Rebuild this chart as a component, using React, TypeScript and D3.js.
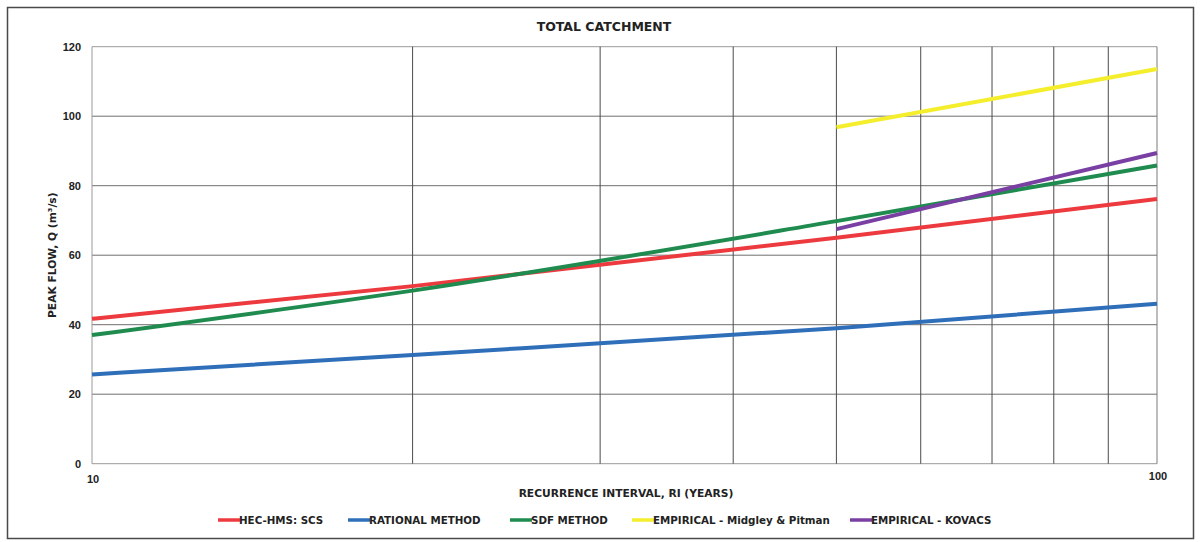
import React from "react";
import * as d3 from "d3";

// Recurrence intervals (years) at which each method was evaluated
const intervals = [10, 20, 50, 100];
const empiricalIntervals = [50, 100];

// Peak flow estimates, m³/s
const hecHmsScs = [41.7, 51.1, 65.0, 76.2];
const rationalMethod = [25.7, 31.3, 39.0, 46.0];
const sdfMethod = [37.0, 49.8, 69.8, 85.8];
const midgleyPitman = [96.8, 113.6];
const kovacs = [67.5, 89.4];

const seriesNames = [
  "HEC-HMS: SCS",
  "RATIONAL METHOD",
  "SDF METHOD",
  "EMPIRICAL - Midgley & Pitman",
  "EMPIRICAL - KOVACS",
];
const seriesColors = ["#ec3a3f", "#2f6fba", "#1f8b4e", "#f4ee2c", "#7a3fa3"];

const xGridValues = [10, 20, 30, 40, 50, 60, 70, 80, 90, 100];
const xTickLabels = [10, 100];
const yTicks = [0, 20, 40, 60, 80, 100, 120];

const W = 1200;
const H = 542;
const plot = { left: 92, right: 1157, top: 46.7, bottom: 463.7 };
const FONT = "'Liberation Sans', Arial, sans-serif";
const WIDE = "'DejaVu Sans', Verdana, sans-serif";

export default function App() {
  const x = d3.scaleLog().domain([10, 100]).range([plot.left, plot.right]);
  const y = d3.scaleLinear().domain([0, 120]).range([plot.bottom, plot.top]);

  const line = d3
    .line<[number, number]>()
    .x((d) => x(d[0]))
    .y((d) => y(d[1]))
    .curve(d3.curveMonotoneX);

  const series = [
    { xs: intervals, ys: hecHmsScs },
    { xs: intervals, ys: rationalMethod },
    { xs: intervals, ys: sdfMethod },
    { xs: empiricalIntervals, ys: midgleyPitman },
    { xs: empiricalIntervals, ys: kovacs },
  ];

  // Legend entries: swatch start x
  const legendX = [218, 348, 510, 632, 850];
  const legendY = 520;

  return (
    <svg
      width={W}
      height={H}
      style={{ position: "absolute", left: 0, top: 0, background: "#fff" }}
      fontFamily={FONT}
    >
      <rect x={0} y={0} width={W} height={H} fill="#fff" />
      {/* outer chart frame */}
      <rect
        x={7.5}
        y={7.5}
        width={1186}
        height={531}
        fill="none"
        stroke="#4a4a4a"
        strokeWidth={1.5}
      />

      <text
        x={604}
        y={31}
        textAnchor="middle"
        fontSize={12.5}
        fontWeight="bold"
        fontFamily={WIDE}
        fill="#222"
      >
        TOTAL CATCHMENT
      </text>

      {/* horizontal gridlines */}
      {yTicks.map((t) => (
        <line
          key={"h" + t}
          x1={plot.left}
          x2={plot.right}
          y1={y(t)}
          y2={y(t)}
          stroke={t === 0 || t === 120 ? "#9a9a9a" : "#6e6e6e"}
          strokeWidth={1}
        />
      ))}
      {/* vertical gridlines */}
      {xGridValues.map((v) => (
        <line
          key={"v" + v}
          x1={x(v)}
          x2={x(v)}
          y1={plot.top}
          y2={plot.bottom}
          stroke={v === 10 ? "#9a9a9a" : v === 100 ? "#7a7a7a" : "#4a4a4a"}
          strokeWidth={1}
        />
      ))}

      {/* y tick labels */}
      {yTicks.map((t) => (
        <text
          key={"yl" + t}
          x={81}
          y={y(t) + 4}
          textAnchor="end"
          fontSize={11}
          fontWeight="bold"
          fill="#222"
        >
          {t}
        </text>
      ))}
      {/* x tick labels */}
      {xTickLabels.map((v) => (
        <text
          key={"xl" + v}
          x={x(v) + 1}
          y={v === 100 ? 480 : 483}
          textAnchor="middle"
          fontSize={11}
          fontWeight="bold"
          fill="#222"
        >
          {v}
        </text>
      ))}

      <text
        transform={`translate(56,${(plot.top + plot.bottom) / 2}) rotate(-90)`}
        textAnchor="middle"
        fontSize={10.7}
        fontWeight="bold"
        fontFamily={WIDE}
        fill="#222"
      >
        PEAK FLOW, Q (m³/s)
      </text>
      <text
        x={626}
        y={497}
        textAnchor="middle"
        fontSize={10.7}
        fontWeight="bold"
        fontFamily={WIDE}
        fill="#222"
      >
        RECURRENCE INTERVAL, RI (YEARS)
      </text>

      {/* series lines */}
      {series.map((s, i) => (
        <path
          key={"s" + i}
          d={line(s.xs.map((v, j) => [v, s.ys[j]] as [number, number])) || ""}
          fill="none"
          stroke={seriesColors[i]}
          strokeWidth={4}
          strokeLinecap="butt"
        />
      ))}

      {/* legend */}
      {seriesNames.map((name, i) => (
        <g key={"lg" + i}>
          <line
            x1={legendX[i]}
            x2={legendX[i] + 22}
            y1={legendY}
            y2={legendY}
            stroke={seriesColors[i]}
            strokeWidth={3.5}
          />
          <text
            x={legendX[i] + 21}
            y={legendY + 4}
            fontSize={10.3}
            fontWeight="bold"
            fontFamily={WIDE}
            fill="#222"
          >
            {name}
          </text>
        </g>
      ))}
    </svg>
  );
}
